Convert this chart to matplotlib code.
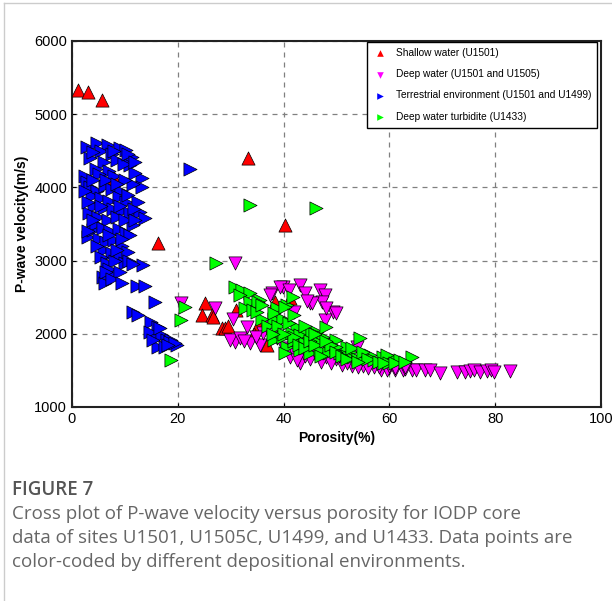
import matplotlib
matplotlib.use("Agg")
from matplotlib import pyplot as plt
from matplotlib.lines import Line2D

# Shallow water (U1501)
shallow_por = [1.1, 3.0, 5.6, 8.0, 16.3, 33.3, 40.3, 25.1, 24.5, 26.4, 28.3, 28.9,
               31.1, 35.2, 36.8, 38.4, 41.2, 29.5, 34.5, 26.7]
shallow_vel = [5335, 5307, 5197, 4128, 3240, 4402, 3486, 2420, 2257, 2257, 2080, 2080,
               2325, 2120, 1850, 2440, 2490, 2100, 2000, 2230]

# Deep water (U1501 and U1505)
deep_por = [30.8, 27.0, 30.5, 30.8, 33.6, 35.5, 33.0, 37.8, 39.9, 43.1, 44.0, 45.0,
            46.9, 47.8, 47.2, 49.4, 47.8, 36.2, 29.9, 31.8, 38.7, 41.2, 43.1, 36.8,
            39.3, 37.4, 45.3, 53.8, 20.7, 32.5, 34.8, 42.0, 44.0, 40.0, 46.0, 48.0,
            50.0, 45.0, 47.0, 49.0, 51.0, 53.0, 55.0, 57.0, 52.0, 56.0, 60.0, 58.5,
            59.5, 61.1, 62.6, 64.2, 65.1, 66.7, 67.7, 69.6, 72.7, 74.3, 75.2, 76.0,
            77.1, 78.4, 79.3, 79.8, 82.8, 54.0, 58.0, 63.0, 50.5, 42.5,
            41.0, 44.5, 48.0, 50.0, 42.0, 39.0, 54.0, 56.0, 58.0, 61.0, 63.0, 60.0]
deep_vel = [2963, 2348, 2208, 1890, 1870, 1847, 2097, 2553, 2643, 2667, 2553, 2416,
            2598, 2530, 2438, 2302, 2189, 2006, 1915, 1938, 1938, 1687, 1597, 2097,
            2643, 2530, 2416, 1824, 2416, 1900, 1950, 1750, 1700, 1800, 1720, 1680,
            1650, 1650, 1620, 1600, 1580, 1560, 1560, 1540, 1600, 1580, 1530, 1505,
            1505, 1505, 1500, 1500, 1500, 1505, 1500, 1460, 1480, 1480, 1490, 1500,
            1480, 1490, 1500, 1480, 1490, 1620, 1560, 1520, 1700, 1640,
            2600, 2450, 2350, 2280, 2300, 2150, 1540, 1530, 1540, 1530, 1550, 1560]

# Terrestrial environment (U1501 and U1499)
terr_por = [2.8, 4.7, 6.8, 9.1, 10.3, 11.3, 11.0, 5.5, 7.5, 3.5, 6.0, 8.5, 9.8, 4.5,
            7.0, 2.5, 5.2, 8.0, 13.2, 13.2, 2.8,
            3.5, 4.8, 6.2, 7.6, 9.2, 3.8, 5.5, 7.0, 8.8, 10.2, 4.2, 6.0, 7.8, 9.5,
            11.0, 12.9, 13.8, 11.6, 3.2, 5.0, 6.8, 8.5, 10.0,
            3.1, 4.0, 4.5, 5.8, 7.2, 8.8, 10.2, 5.2, 6.5, 8.0, 9.4, 6.0, 7.5, 9.0,
            10.5, 5.5, 6.6, 10.0, 13.5, 8.2,
            5.9, 7.8, 6.2, 7.0, 9.0,
            4.0, 8.0, 10.5, 12.0, 11.5, 10.5, 12.5, 11.8, 9.0, 4.0, 3.0, 12.0, 11.0,
            9.5, 10.8, 4.8, 7.0, 8.5, 11.5, 6.5, 7.5, 9.5, 5.5, 3.0, 2.5, 10.0, 12.0,
            6.5, 4.0, 8.5,
            12.2, 13.8, 15.7, 11.5, 12.5, 15.0, 16.3, 15.7, 17.0, 17.9, 18.8, 19.8,
            16.3, 17.6, 18.5, 14.7, 19.5, 16.6, 18.2, 15.4, 22.4]
terr_vel = [4556, 4610, 4580, 4540, 4510, 4420, 4305, 4500, 4450, 4400, 4350, 4380,
            4320, 4250, 4220, 4150, 4180, 4150, 4128, 4010, 4080,
            4000, 3950, 4020, 3980, 3950, 3880, 3850, 3820, 3870, 3800, 3750, 3720,
            3700, 3680, 3650, 3668, 3580, 3486, 3650, 3600, 3560, 3600, 3550,
            3326, 3418, 3500, 3450, 3400, 3430, 3380, 3300, 3250, 3280, 3200, 3150,
            3100, 3080, 3120, 3050, 2967, 2963, 2940, 3000,
            2780, 2826, 2700, 2880, 2850,
            4480, 4500, 4450, 4200, 4050, 3900, 3800, 3700, 3750, 3550, 3400, 3550,
            3350, 3300, 3000, 3200, 3350, 3150, 2950, 2850, 2750, 2700, 3750, 3800,
            3950, 4100, 4350, 4100, 4100, 4050,
            2650, 2650, 2440, 2300, 2257, 2165, 2097, 1960, 1983, 1915, 1915, 1847,
            1824, 1824, 1890, 2029, 1870, 2080, 1847, 1915, 4250]

# Deep water turbidite (U1433)
turb_por = [33.6, 46.1, 27.3, 18.8, 21.4, 20.7,
            30.8, 32.1, 33.6, 35.5, 38.7, 40.6, 41.8, 38.1, 39.9, 38.7, 40.6, 42.5,
            44.3, 46.3, 47.5, 45.0, 48.8, 50.7, 52.6, 54.4, 55.7, 58.8, 61.4, 64.2,
            31.8, 33.6, 35.2, 32.7, 34.3, 38.1, 40.3, 38.1, 39.9, 41.5, 43.1, 45.3,
            47.5, 40.3, 43.1, 45.0, 46.9, 48.8, 48.1, 50.0, 51.9, 53.2, 56.3, 59.5,
            62.0, 48.5, 46.5, 42.0, 44.0, 50.0, 52.0, 54.0, 57.0, 60.0,
            36.0, 37.0, 39.0, 41.0, 42.0, 43.0, 44.0, 45.0, 46.0, 47.0, 49.0, 50.0,
            51.0, 53.0, 55.0, 56.0, 58.0, 59.0, 61.0, 63.0, 40.0, 38.0, 35.0, 36.0,
            48.0, 52.0, 54.0, 44.0, 46.0, 42.0]
turb_vel = [3760, 3720, 2970, 1642, 2370, 2190,
            2643, 2598, 2553, 2462, 2350, 2393, 2507, 2208, 2208, 1938, 1824, 2097,
            2006, 2029, 1938, 1824, 1778, 1733, 1755, 1938, 1665, 1687, 1642, 1687,
            2530, 2438, 2438, 2348, 2325, 2280, 2370, 1915, 1960, 2006, 1983, 2029,
            1960, 1733, 1778, 1733, 1778, 1778, 2097, 1915, 1824, 1687, 1710, 1710,
            1642, 1733, 1890, 1900, 1880, 1820, 1700, 1650, 1640, 1600,
            2200, 2100, 2100, 2150, 1950, 1850, 1800, 1900, 1850, 1700, 1850, 1750,
            1700, 1800, 1750, 1650, 1620, 1600, 1600, 1620, 2000, 2000, 2300, 2400,
            1900, 1650, 1620, 2100, 2000, 2250]

fig = plt.figure(figsize=(6.12, 6.01), dpi=100)
ax = fig.add_axes([0.1176, 0.3228, 0.8644, 0.609])

kw = dict(s=90, edgecolors="black", linewidths=0.5)
ax.scatter(shallow_por, shallow_vel, marker="^", color="#ff0000",
           label="Shallow water (U1501)", zorder=3, **kw)
ax.scatter(deep_por, deep_vel, marker="v", color="#ff00ff",
           label="Deep water (U1501 and U1505)", zorder=4, **kw)
ax.scatter(terr_por, terr_vel, marker=">", color="#0000ff",
           label="Terrestrial environment (U1501 and U1499)", zorder=5, **kw)
ax.scatter(turb_por, turb_vel, marker=">", color="#00ff00",
           label="Deep water turbidite (U1433)", zorder=6, **kw)

ax.set_xlim(0, 100)
ax.set_ylim(1000, 6000)
ax.set_xticks([0, 20, 40, 60, 80, 100])
ax.set_yticks([1000, 2000, 3000, 4000, 5000, 6000])
ax.grid(True, linestyle=(0, (4, 4)), color="#808080", linewidth=0.9)
ax.set_axisbelow(True)
ax.tick_params(labelsize=10.5, direction="in", length=3, width=0.8)
for sp in ax.spines.values():
    sp.set_linewidth(1.5)
    sp.set_color("#222222")

ax.set_xlabel("Porosity(%)", fontsize=10, fontweight="bold", family="Liberation Sans")
ax.set_ylabel("P-wave velocity(m/s)", fontsize=10, fontweight="bold", family="Liberation Sans")
for t in ax.get_xticklabels() + ax.get_yticklabels():
    t.set_family("Liberation Sans")

leg = ax.legend(loc="upper right", bbox_to_anchor=(0.995, 1.0), borderaxespad=0.1,
                markerscale=0.5, frameon=True, fancybox=False, framealpha=1,
                edgecolor="black", labelspacing=1.1, handletextpad=0.9,
                borderpad=0.6, handlelength=1.3,
                prop={"family": "Liberation Sans", "size": 7.3})
leg.get_frame().set_linewidth(1.0)
for h in leg.legend_handles:
    h.set_linewidth(0)

# figure panel border and caption
fig.add_artist(Line2D([4 / 612, 4 / 612], [0, 1 - 3 / 601], color="#cccccc", lw=1))
fig.add_artist(Line2D([4 / 612, 1], [1 - 3 / 601, 1 - 3 / 601], color="#cccccc", lw=1))

fig.text(12 / 612, 1 - 490 / 601, "FIGURE 7", fontsize=13.5, color="#555555",
         family="Open Sans", fontweight="semibold", va="center")
caption = ("Cross plot of P-wave velocity versus porosity for IODP core\n"
           "data of sites U1501, U1505C, U1499, and U1433. Data points are\n"
           "color-coded by different depositional environments.")
fig.text(12 / 612, 1 - 505 / 601, caption, fontsize=13.5, color="#666666",
         family="Open Sans", va="top", linespacing=1.42)

fig.savefig("out.png", dpi=100)
